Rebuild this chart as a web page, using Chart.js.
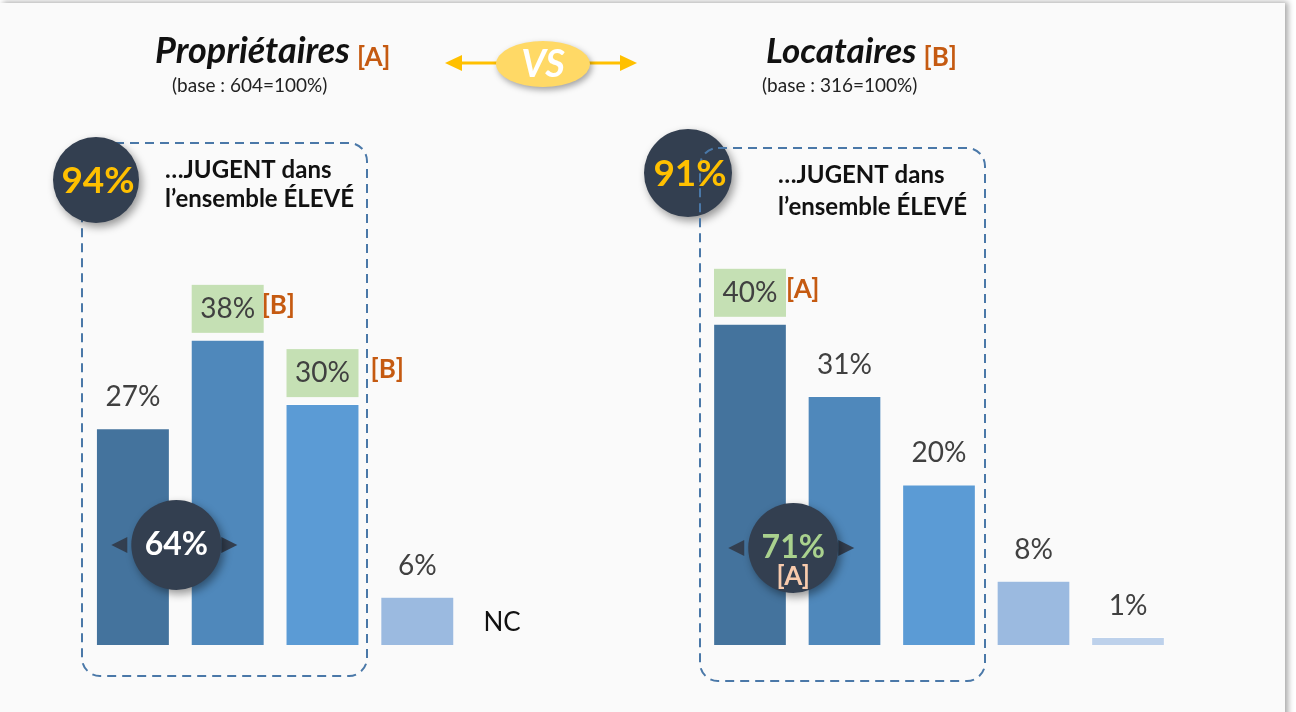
<!DOCTYPE html>
<html lang="fr">
<head>
<meta charset="UTF-8">
<title>Propriétaires vs Locataires</title>
<script src="https://cdn.jsdelivr.net/npm/chart.js"></script>
<style>
  body { margin: 0; background: #ffffff; width: 1296px; height: 712px; overflow: hidden; position: relative; }
  .sheet { position: absolute; left: 0; top: 3px; width: 1285px; height: 730px; background: #fafafa; box-shadow: 3px -1px 6px rgba(0, 0, 0, 0.35); }
  canvas { position: absolute; left: 0; top: 0; }
</style>
</head>
<body>
<div class="sheet"></div>
<canvas id="owners" width="1296" height="712"></canvas>
<canvas id="renters" width="1296" height="712"></canvas>

<script>
// ---- data ----
const categories = ['Très élevé', 'Plutôt élevé', 'Assez élevé', 'Peu élevé', 'NC'];
const ownersValues = [27, 38, 30, 6, null];
const rentersValues = [40, 31, 20, 8, 1];
// significance markers shown next to a value
const ownersSig = ['', '[B]', '[B]', '', ''];
const rentersSig = ['[A]', '', '', '', ''];
const totalsHigh = ['94%', '91%'];   // "…JUGENT dans l'ensemble ÉLEVÉ"
const totalsTop = ['64%', '71%'];    // first two bars together
const totalsTopSig = ['', '[A]'];
const groupTitles = ['Propriétaires', 'Locataires'];
const groupLetters = ['[A]', '[B]'];
const groupBases = ['(base : 604=100%)', '(base : 316=100%)'];

const barColors = ['#44739d', '#4f88bb', '#5b9bd5', '#9bbae0', '#bdd1eb'];
const navy = '#333f50';
const orange = '#c55a11';
const labelFont = '"Lato", "Open Sans", sans-serif';

// annotation layout for each side
const layouts = [
  { titleX: 155, titleSize: 36, letterGap: 7, baseX: 172, box: [82, 143, 367, 676], ring: [96, 180, 43],
    textX: 165, textY: [170, 199], midY: 545, sigShift: [0, 0, 14, 0, 0] },
  { titleX: 766, titleSize: 35, letterGap: 7, baseX: 762, box: [700, 148, 985, 681], ring: [688, 173, 44],
    textX: 778, textY: [175, 207], midY: 548, sigShift: [2, 0, 0, 0, 0] }
];

function roundRect(ctx, x1, y1, x2, y2, r) {
  ctx.beginPath();
  ctx.moveTo(x1 + r, y1);
  ctx.lineTo(x2 - r, y1);
  ctx.arcTo(x2, y1, x2, y1 + r, r);
  ctx.lineTo(x2, y2 - r);
  ctx.arcTo(x2, y2, x2 - r, y2, r);
  ctx.lineTo(x1 + r, y2);
  ctx.arcTo(x1, y2, x1, y2 - r, r);
  ctx.lineTo(x1, y1 + r);
  ctx.arcTo(x1, y1, x1 + r, y1, r);
  ctx.closePath();
}

function disc(ctx, x, y, r) {
  ctx.save();
  ctx.shadowColor = 'rgba(0,0,0,0.4)';
  ctx.shadowBlur = 8;
  ctx.shadowOffsetX = 3;
  ctx.shadowOffsetY = 4;
  ctx.fillStyle = navy;
  ctx.beginPath();
  ctx.arc(x, y, r, 0, Math.PI * 2);
  ctx.fill();
  ctx.restore();
}

function triangle(ctx, tipX, y, dir, w, h) {
  ctx.beginPath();
  ctx.moveTo(tipX, y);
  ctx.lineTo(tipX - dir * w, y - h / 2);
  ctx.lineTo(tipX - dir * w, y + h / 2);
  ctx.closePath();
  ctx.fill();
}

function drawVs(ctx) {
  ctx.save();
  ctx.fillStyle = '#ffc000';
  ctx.strokeStyle = '#ffc000';
  ctx.lineWidth = 3;
  ctx.beginPath();
  ctx.moveTo(458, 63);
  ctx.lineTo(624, 63);
  ctx.stroke();
  triangle(ctx, 445, 63, -1, 17, 16);
  triangle(ctx, 637, 63, 1, 17, 16);
  ctx.shadowColor = 'rgba(0,0,0,0.35)';
  ctx.shadowBlur = 6;
  ctx.shadowOffsetX = 2;
  ctx.shadowOffsetY = 3;
  ctx.fillStyle = '#ffd966';
  ctx.beginPath();
  ctx.ellipse(543, 64, 47, 23, 0, 0, Math.PI * 2);
  ctx.fill();
  ctx.restore();
  ctx.fillStyle = '#ffffff';
  ctx.font = 'italic bold 38px ' + labelFont;
  ctx.textAlign = 'center';
  ctx.textBaseline = 'middle';
  ctx.fillText('VS', 543, 65);
}

const annotate = {
  id: 'annotate',
  afterDatasetsDraw(chart, args, opts) {
    const ctx = chart.ctx;
    const i = opts.side;
    const L = layouts[i];
    const meta = chart.getDatasetMeta(0);
    const values = chart.data.datasets[0].data;
    const sig = opts.sig;
    const xs = chart.scales.x;
    const ys = chart.scales.y;

    ctx.save();
    // titles
    ctx.textBaseline = 'alphabetic';
    ctx.textAlign = 'left';
    ctx.fillStyle = '#111111';
    ctx.font = 'italic bold ' + L.titleSize + 'px ' + labelFont;
    ctx.fillText(groupTitles[i], L.titleX, 63);
    const tw = ctx.measureText(groupTitles[i]).width;
    ctx.fillStyle = orange;
    ctx.font = 'bold 26px ' + labelFont;
    ctx.fillText(groupLetters[i], L.titleX + tw + L.letterGap, 66);
    ctx.fillStyle = '#222222';
    ctx.font = '19px ' + labelFont;
    ctx.fillText(groupBases[i], L.baseX, 92);
    if (i === 0) drawVs(ctx);

    // value labels
    ctx.textBaseline = 'middle';
    values.forEach((v, k) => {
      const cx = xs.getPixelForValue(k);
      if (v === null) {
        ctx.fillStyle = '#111111';
        ctx.font = '26px ' + labelFont;
        ctx.textAlign = 'center';
        ctx.fillText(categories[k], cx - 10, ys.getPixelForValue(0) - 22);
        return;
      }
      const top = meta.data[k].y;
      const mid = top - 31;
      if (sig[k]) {
        ctx.fillStyle = '#c5e0b4';
        ctx.fillRect(cx - 36, top - 55, 72, 48);
      }
      ctx.fillStyle = '#404040';
      ctx.font = '28px ' + labelFont;
      ctx.textAlign = 'center';
      ctx.fillText(v + '%', cx, mid);
      if (sig[k]) {
        ctx.fillStyle = orange;
        ctx.font = 'bold 26px ' + labelFont;
        ctx.textAlign = 'left';
        ctx.fillText(sig[k], cx + 34 + L.sigShift[k], mid - 3);
      }
    });

    // dashed frame + big ring
    const [bx1, by1, bx2, by2] = L.box;
    const [rx, ry, rr] = L.ring;
    const frame = () => {
      ctx.save();
      ctx.strokeStyle = '#4a78a8';
      ctx.lineWidth = 2;
      ctx.setLineDash([9, 6]);
      roundRect(ctx, bx1, by1, bx2, by2, 18);
      ctx.stroke();
      ctx.restore();
    };
    if (i === 1) disc(ctx, rx, ry, rr);
    frame();
    if (i === 0) disc(ctx, rx, ry, rr);
    ctx.fillStyle = '#ffc000';
    ctx.font = 'bold 37px ' + labelFont;
    ctx.textAlign = 'center';
    ctx.fillText(totalsHigh[i], rx + 2, ry + 1);

    ctx.fillStyle = '#111111';
    ctx.font = 'bold 24px ' + labelFont;
    ctx.textAlign = 'left';
    ctx.fillText('…JUGENT dans', L.textX, L.textY[0]);
    ctx.fillText('l’ensemble ÉLEVÉ', L.textX, L.textY[1]);

    // first two bars together
    const mx = (xs.getPixelForValue(0) + xs.getPixelForValue(1)) / 2 - 4;
    const my = L.midY;
    ctx.fillStyle = navy;
    triangle(ctx, mx - 65, my, -1, 16, 16);
    triangle(ctx, mx + 61, my, 1, 16, 16);
    disc(ctx, mx, my, 45);
    ctx.textAlign = 'center';
    if (totalsTopSig[i]) {
      ctx.fillStyle = '#a9d18e';
      ctx.font = 'bold 32px ' + labelFont;
      ctx.fillText(totalsTop[i], mx, my);
      ctx.fillStyle = '#f8cbad';
      ctx.font = 'bold 26px ' + labelFont;
      ctx.fillText(totalsTopSig[i], mx, my + 29);
    } else {
      ctx.fillStyle = '#ffffff';
      ctx.font = 'bold 32px ' + labelFont;
      ctx.fillText(totalsTop[i], mx, my);
    }
    ctx.restore();
  }
};

function makeChart(id, values, sig, side, padLeft, padRight) {
  return new Chart(document.getElementById(id), {
    type: 'bar',
    data: {
      labels: categories,
      datasets: [{
        data: values,
        backgroundColor: barColors,
        borderColor: 'rgba(255,255,255,0.45)',
        borderWidth: 1,
        barPercentage: 0.78,
        categoryPercentage: 1
      }]
    },
    options: {
      responsive: false,
      animation: false,
      layout: { padding: { left: padLeft, right: padRight, top: 243.5, bottom: 67 } },
      plugins: {
        legend: { display: false },
        tooltip: { enabled: false },
        annotate: { side: side, sig: sig }
      },
      scales: {
        x: { display: false, grid: { display: false } },
        y: { display: false, min: 0, max: 50, grid: { display: false } }
      }
    },
    plugins: [annotate]
  });
}

makeChart('owners', ownersValues, ownersSig, 0, 85.5, 736.5);
makeChart('renters', rentersValues, rentersSig, 1, 702.75, 120.75);
</script>
</body>
</html>
